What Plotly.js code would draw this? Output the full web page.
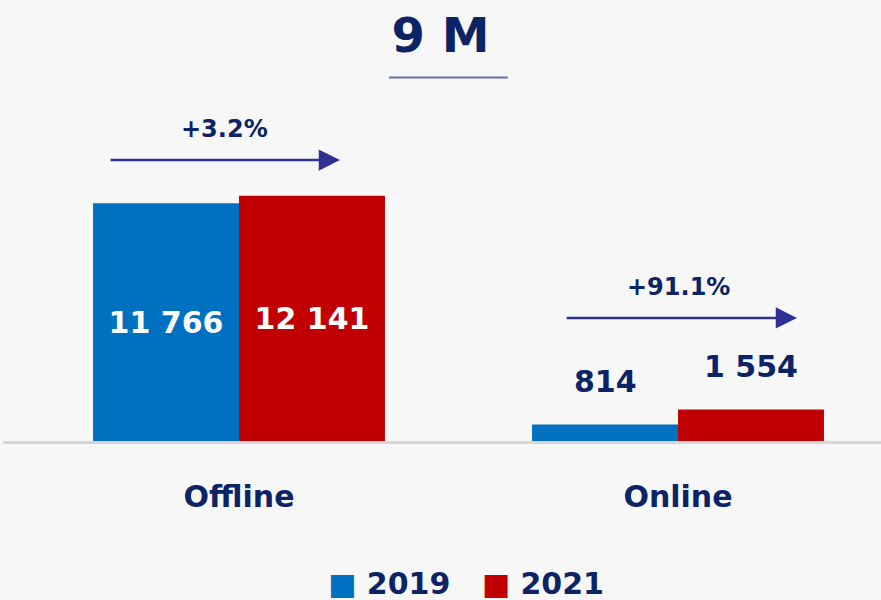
<!DOCTYPE html>
<html><head><meta charset="utf-8">
<script src="https://cdn.plot.ly/plotly-3.0.1.min.js"></script>
<style>html,body{margin:0;padding:0;background:#f7f7f7}</style>
</head><body><div id="chart" style="width:881px;height:600px"></div>
<script>
const categories = ['Offline', 'Online'];
const seriesNames = ['2019', '2021'];
const values2019 = [11766, 814];
const values2021 = [12141, 1554];
const growthLabels = ['+3.2%', '+91.1%'];
const chartTitle = '9 M';

const colors = ['#0070c0', '#c00000'];
const navy = '#0c2466';
const arrowColor = '#2e3192';
const FONT = 'DejaVu Sans, Verdana, sans-serif';

function fmt(v){ return String(v).replace(/\B(?=(\d{3})+(?!\d))/g, '\u00A0'); }

const bargap = 0.335;
const barW = (1 - bargap) / 2;
const yMax = 21830;
const insideMin = 5000;

const series = [values2019, values2021];
const traces = series.map((vals, i) => ({
  type: 'bar',
  name: seriesNames[i],
  x: categories,
  y: vals,
  marker: {color: colors[i], line: {width: 0}},
  text: vals.map(fmt),
  textposition: vals.map(v => v >= insideMin ? 'inside' : 'none'),
  insidetextanchor: 'middle',
  textfont: {family: FONT, size: 30, color: '#ffffff', weight: 'bold'},
  hoverinfo: 'skip',
  showlegend: false
}));

const annotations = [];
// outside value labels for short bars
series.forEach((vals, i) => {
  vals.forEach((v, c) => {
    if (v < insideMin) {
      annotations.push({
        x: c + (i === 0 ? -barW / 2 : barW / 2), y: v, xref: 'x', yref: 'y',
        text: fmt(v), showarrow: false, yanchor: 'middle', yshift: 43,
        font: {family: FONT, size: 30, color: navy, weight: 'bold'}
      });
    }
  });
});
// growth arrows and labels
const arrowGeom = [
  {tail: -0.296, head: 0.23, y: 13910, labelX: -0.032, labelY: 15444},
  {tail: 0.743, head: 1.271, y: 6089, labelX: 1.0, labelY: 7623}
];
growthLabels.forEach((g, c) => {
  const a = arrowGeom[c];
  annotations.push({
    x: a.head, y: a.y, ax: a.tail, ay: a.y, xref: 'x', yref: 'y', axref: 'x', ayref: 'y',
    text: '', showarrow: true, arrowhead: 2, arrowsize: 1.7, arrowwidth: 2.5, arrowcolor: arrowColor, standoff: 0
  });
  annotations.push({
    x: a.labelX, y: a.labelY, xref: 'x', yref: 'y', text: g, showarrow: false,
    yanchor: 'middle', font: {family: FONT, size: 24, color: navy, weight: 'bold'}
  });
});
// custom legend
const legendText = seriesNames.map((n, i) =>
  '<span style="color:' + colors[i] + ';font-size:30px">\u25A0</span>\u00A0' + n).join('\u00A0\u00A0\u00A0');
annotations.push({
  x: 0.527, y: -0.322, xref: 'paper', yref: 'paper', text: legendText, showarrow: false,
  xanchor: 'center', yanchor: 'middle', font: {family: FONT, size: 30, color: navy, weight: 'bold'}
});

const layout = {
  width: 881, height: 600,
  margin: {l: 3, r: 0, t: 0, b: 159},
  paper_bgcolor: '#f7f7f7', plot_bgcolor: '#f7f7f7',
  barmode: 'group', bargap: bargap, bargroupgap: 0,
  title: {text: chartTitle, font: {family: FONT, size: 48, color: navy, weight: 'bold'},
          x: 0.5, xref: 'container', xanchor: 'center', y: 1 - 35 / 600, yref: 'container', yanchor: 'middle'},
  xaxis: {type: 'category', range: [-0.5376, 1.4624], showline: false, showgrid: false, zeroline: false,
          ticks: '', tickfont: {family: FONT, size: 30, color: navy, weight: 'bold'}, ticklabelstandoff: 35, fixedrange: true},
  yaxis: {range: [0, yMax], visible: false, showgrid: false, zeroline: false, fixedrange: true},
  shapes: [
    {type: 'line', xref: 'paper', yref: 'paper', x0: 0, x1: 1, y0: -1.5 / 441, y1: -1.5 / 441, layer: 'below',
     line: {color: '#d6d6d6', width: 3}},
    {type: 'line', xref: 'paper', yref: 'paper', x0: 0.4396, x1: 0.575, y0: 0.824, y1: 0.824,
     line: {color: '#6a6fb3', width: 2}}
  ],
  annotations: annotations,
  showlegend: false
};

Plotly.newPlot('chart', traces, layout, {displayModeBar: false, staticPlot: true});
</script></body></html>
